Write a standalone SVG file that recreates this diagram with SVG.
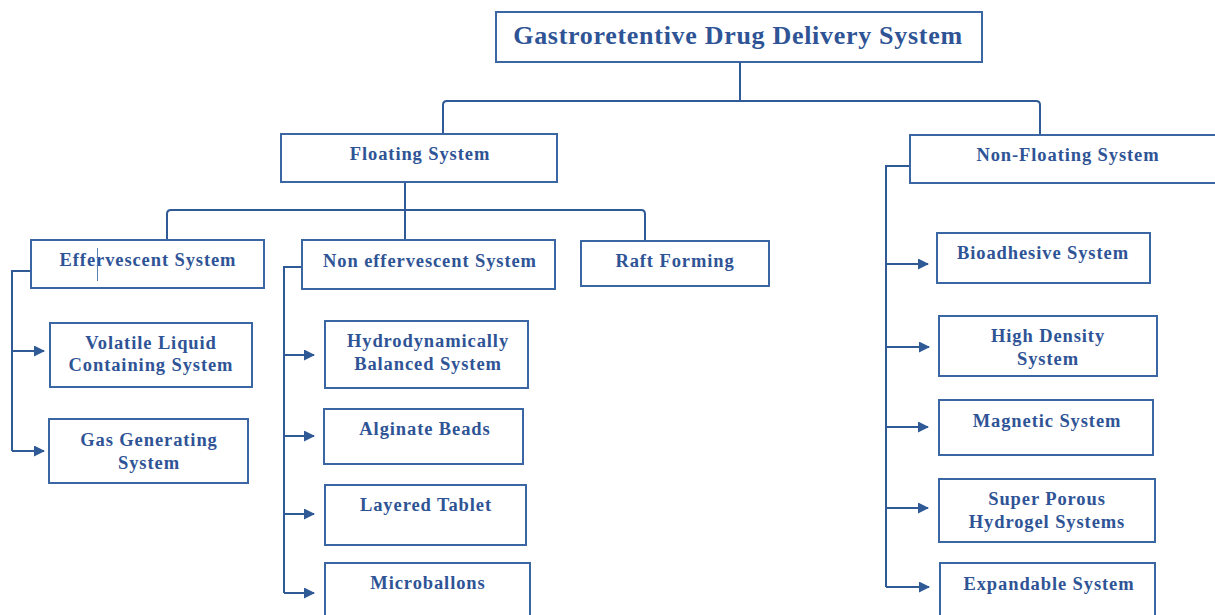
<svg xmlns="http://www.w3.org/2000/svg" width="1215" height="615" viewBox="0 0 1215 615">
<style>
.box{fill:#fff;stroke:#3a67a3;stroke-width:2}
.t{font-family:"Liberation Serif","Times New Roman",serif;font-weight:bold;fill:#2f5496;text-anchor:middle;font-size:18.5px;letter-spacing:0.9px}
.title{font-size:26px;letter-spacing:0.7px}
.ln{fill:none;stroke:#2f5a96;stroke-width:2}
</style>
<defs>
<marker id="ah" markerWidth="11" markerHeight="11" refX="10" refY="5.5" orient="auto" markerUnits="userSpaceOnUse">
<path d="M0,0 L11,5.5 L0,11 Z" fill="#2f5a96"/>
</marker>
</defs>
<rect width="1215" height="615" fill="#fff"/>
<g id="connectors">
<path class="ln" d="M740,62 V101"/>
<path class="ln" d="M443,134 V105 Q443,101 447,101 H1036 Q1040,101 1040,105 V135"/>
<path class="ln" d="M405,182 V240"/>
<path class="ln" d="M167,240 V214 Q167,210 171,210 H641 Q645,210 645,214 V241"/>
<path class="ln" d="M31,271 H12 V451"/>
<path class="ln" d="M12,351 H44" marker-end="url(#ah)"/>
<path class="ln" d="M12,451 H44" marker-end="url(#ah)"/>
<path class="ln" d="M302,267 H284 V593"/>
<path class="ln" d="M284,355 H314" marker-end="url(#ah)"/>
<path class="ln" d="M284,436 H314" marker-end="url(#ah)"/>
<path class="ln" d="M284,514 H314" marker-end="url(#ah)"/>
<path class="ln" d="M284,593 H314" marker-end="url(#ah)"/>
<path class="ln" d="M910,166 H886 V587"/>
<path class="ln" d="M886,264 H928" marker-end="url(#ah)"/>
<path class="ln" d="M886,347 H929" marker-end="url(#ah)"/>
<path class="ln" d="M886,427 H928" marker-end="url(#ah)"/>
<path class="ln" d="M886,508 H928" marker-end="url(#ah)"/>
<path class="ln" d="M886,587 H929" marker-end="url(#ah)"/>
</g>
<g id="root"><rect class="box" x="496" y="12" width="486" height="50"/><text class="t title" x="738" y="44">Gastroretentive Drug Delivery System</text></g>
<g id="floating"><rect class="box" x="281" y="134" width="276" height="48"/><text class="t" x="420" y="160">Floating System</text></g>
<g id="nonfloating"><rect class="box" x="910" y="135" width="310" height="48"/><text class="t" x="1068" y="161">Non-Floating System</text></g>
<g id="effervescent"><rect class="box" x="31" y="240" width="233" height="48"/><text class="t" x="148" y="266">Effervescent System</text><line x1="97.5" y1="248" x2="97.5" y2="281" stroke="#5b7fb5" stroke-width="1"/></g>
<g id="noneffervescent"><rect class="box" x="302" y="240" width="253" height="49"/><text class="t" x="430" y="267">Non effervescent System</text></g>
<g id="raft"><rect class="box" x="581" y="241" width="188" height="45"/><text class="t" x="675" y="267">Raft Forming</text></g>
<g id="volatile"><rect class="box" x="50" y="323" width="202" height="64"/><text class="t" x="151" y="349">Volatile Liquid</text><text class="t" x="151" y="371">Containing System</text></g>
<g id="gas"><rect class="box" x="49" y="419" width="199" height="64"/><text class="t" x="149" y="446">Gas Generating</text><text class="t" x="149" y="469">System</text></g>
<g id="hbs"><rect class="box" x="325" y="321" width="203" height="67"/><text class="t" x="428" y="347">Hydrodynamically</text><text class="t" x="428" y="370">Balanced System</text></g>
<g id="alginate"><rect class="box" x="324" y="409" width="199" height="55"/><text class="t" x="425" y="435">Alginate Beads</text></g>
<g id="layered"><rect class="box" x="325" y="485" width="201" height="60"/><text class="t" x="426" y="511">Layered Tablet</text></g>
<g id="microballons"><rect class="box" x="325" y="563" width="205" height="60"/><text class="t" x="428" y="589">Microballons</text></g>
<g id="bioadhesive"><rect class="box" x="937" y="233" width="213" height="50"/><text class="t" x="1043" y="259">Bioadhesive System</text></g>
<g id="highdensity"><rect class="box" x="939" y="316" width="218" height="60"/><text class="t" x="1048" y="342">High Density</text><text class="t" x="1048" y="365">System</text></g>
<g id="magnetic"><rect class="box" x="939" y="400" width="214" height="55"/><text class="t" x="1047" y="427">Magnetic System</text></g>
<g id="superporous"><rect class="box" x="939" y="479" width="216" height="63"/><text class="t" x="1047" y="505">Super Porous</text><text class="t" x="1047" y="528">Hydrogel Systems</text></g>
<g id="expandable"><rect class="box" x="940" y="563" width="215" height="60"/><text class="t" x="1049" y="590">Expandable System</text></g>
</svg>
